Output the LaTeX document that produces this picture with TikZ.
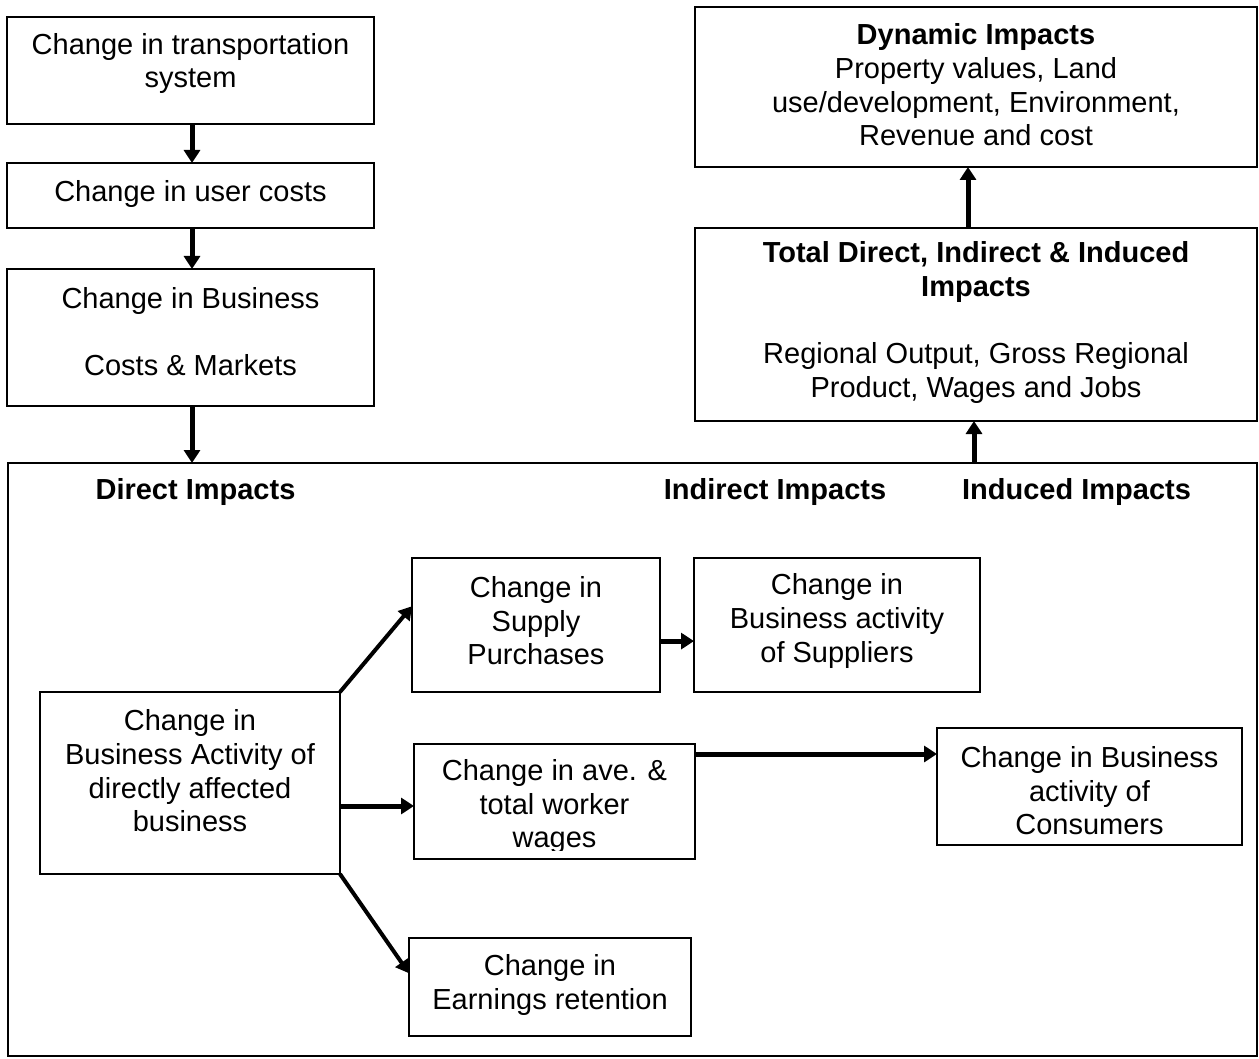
\documentclass[tikz,border=0pt]{standalone}
\usepackage{fontspec}
\setmainfont{Liberation Sans}
\usetikzlibrary{arrows.meta,calc}
\tikzset{
  box/.style={draw=black, line width=1.6pt, inner sep=0pt, outer sep=0pt, fill=white},
  txt/.style={align=center, inner sep=0pt, font=\fontsize{29}{33.6}\selectfont},
  hdr/.style={txt, font=\fontsize{29}{33.6}\selectfont\bfseries},
  arr/.style={line width=5pt, -{Triangle[length=13pt,width=16pt]}},
  arrthin/.style={line width=4pt, -{Triangle[length=13pt,width=15pt]}}
}
\begin{document}
\begin{tikzpicture}[x=1pt,y=-1pt]
\useasboundingbox[fill=white] (0,0) rectangle (1259,1059);

% left column
\node[box, minimum width=367pt, minimum height=107pt] (b1) at (190.5,70.5) {};
\node[txt] (b1t) at (190.5,63.5) {Change in transportation\\system};
\node[box, minimum width=367pt, minimum height=65pt] (b2) at (190.5,195.5) {};
\node[txt] (b2t) at (190.5,194) {Change in user costs};
\node[box, minimum width=367pt, minimum height=137pt] (b3) at (190.5,337.5) {};
\node[txt] (b3t) at (190.5,331.5) {Change in Business\\[33.6pt]Costs \& Markets};

% right column
\node[box, minimum width=562pt, minimum height=160pt] (dyn) at (976,87) {};
\node[txt] (dynt) at (976,85) {\textbf{Dynamic Impacts}\\Property values, Land\\use/development, Environment,\\Revenue and cost};
\node[box, minimum width=562pt, minimum height=193pt] (tot) at (976,324.5) {};
\node[txt] (tott) at (976,322.5) {\textbf{Total Direct, Indirect \& Induced}\\\textbf{Impacts}\\[33.6pt]Regional Output, Gross Regional\\Product, Wages and Jobs};

% big frame
\node[box, minimum width=1249pt, minimum height=593pt] (big) at (632.5,759.5) {};
\node[hdr] (h1) at (195.5,492) {Direct Impacts};
\node[hdr] (h2) at (775,492) {Indirect Impacts};
\node[hdr] (h3) at (1076.5,492) {Induced Impacts};

% inner boxes
\node[box, minimum width=300pt, minimum height=182pt] (main) at (190,783) {};
\node[txt] (maint) at (190,771) {Change in\\Business Activity of\\directly affected\\business};
\node[box, minimum width=248pt, minimum height=134pt] (sup) at (536,625) {};
\node[txt] (supt) at (536,621) {Change in\\Supply\\Purchases};
\node[box, minimum width=286pt, minimum height=134pt] (sps) at (837,625) {};
\node[txt] (spst) at (837,621) {Change in\\Business activity\\of Suppliers};
\node[box, minimum width=281pt, minimum height=115pt] (wag) at (554.5,801.5) {};
\begin{scope}
  \clip (414,744) rectangle (695,850);
  \node[txt] (wagt) at (554.5,806.5) {Change in ave. \&\\total worker\\wages};
\end{scope}
\node[box, minimum width=305pt, minimum height=117pt] (con) at (1089.5,786.5) {};
\node[txt] (cont) at (1089.5,791) {Change in Business\\activity of\\Consumers};
\node[box, minimum width=282pt, minimum height=98pt] (ear) at (550,987) {};
\node[txt] (eart) at (550,985) {Change in\\Earnings retention};

% connectors
\draw[arr] ([xshift=1.5pt]b1.south) -- ([xshift=1.5pt]b2.north);
\draw[arr] ([xshift=1.5pt]b2.south) -- ([xshift=1.5pt]b3.north);
\draw[arr] ([xshift=1.5pt]b3.south) -- ([xshift=1.5pt]b3.south |- big.north);
\draw[arr] ([xshift=-8pt]tot.north) -- ([xshift=-8pt]dyn.south);
\draw[arr] ([xshift=-2pt]tot.south |- big.north) -- ([xshift=-2pt]tot.south);

\coordinate (d1) at ($(sup.north west)!0.36!(sup.south west)$);
\draw[arrthin] (main.north east) -- (d1);
\coordinate (d2) at ($(wag.west)+(0,4.5)$);
\draw[arr] (d2 -| main.east) -- (d2);
\coordinate (d3) at ($(ear.north west)!0.36!(ear.south west)$);
\draw[arrthin] (main.south east) -- (d3);
\coordinate (s1) at ($(sup.north east)!0.62!(sup.south east)$);
\draw[arr] (s1) -- (s1 -| sps.west);
\coordinate (w1) at ($(wag.north east)+(0,10)$);
\draw[arr] (w1) -- (w1 -| con.west);
\end{tikzpicture}
\end{document}
